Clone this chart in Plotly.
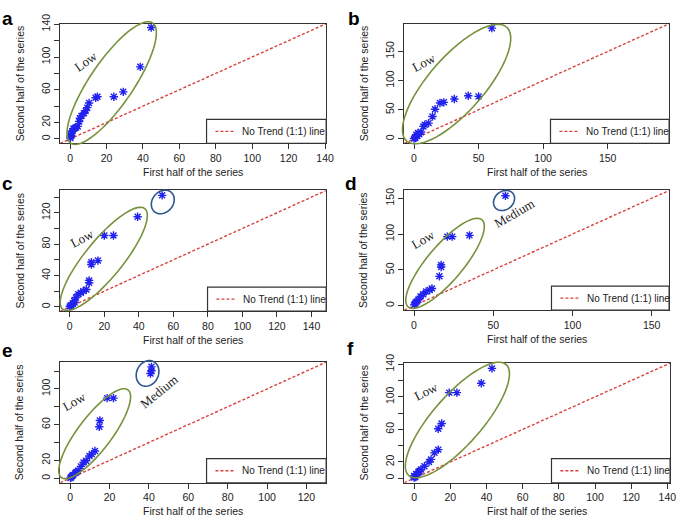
import math
import plotly.graph_objects as go

W, H = 685, 521

# ---------------- data (first half vs second half of each series) ----------------
a_first = [44.5, 38.5, 29.2, 24.0, 15.0, 14.0, 10.4, 9.4, 8.6, 7.6, 5.4, 5.0, 4.2, 3.2, 1.8, 0.9, 0.5, 0.1, 0.3, 1.2, 2.5, 6.2]
a_second = [136, 88, 57.5, 51.5, 51.5, 50.3, 43.8, 38.2, 34.6, 31.4, 25.3, 21.3, 15.3, 14.1, 12.5, 7.2, 4.4, 1.2, 3.0, 9.5, 13.0, 28.0]

b_first = [60.3, 42.0, 50.0, 31.2, 23.1, 20.1, 16.3, 14.3, 11.3, 8.3, 7.3, 5.5, 3.0, 1.8, 0.8, 0.0, 2.5, 4.0, 1.0]
b_second = [190, 74, 73, 68.5, 62.8, 61.7, 51, 38.5, 27.2, 24.3, 21.5, 11.9, 10.2, 7.4, 2.8, 0.6, 5.0, 8.0, 1.5]

c_first = [53.5, 39.3, 25.3, 20.0, 16.3, 12.5, 12.5, 11.2, 11.2, 9.6, 7.8, 6.4, 4.9, 3.6, 2.5, 1.7, 0.6, 0.0, 1.2, 2.8]
c_second = [142.3, 115, 91, 91, 59, 57, 54, 33.7, 30.7, 22, 20, 18, 16, 11.8, 7.6, 4.2, 2.0, 0.3, 1.0, 5.5]

d_first = [57.7, 35.0, 24.1, 21.0, 17.1, 17.1, 16.0, 11.3, 9.9, 7.6, 5.8, 4.1, 2.7, 1.0, 0.2, 0.6, 1.8]
d_second = [153.6, 98.3, 96.5, 96.5, 57, 54, 41, 24, 22, 19.7, 16, 12.8, 8.2, 4.6, 1.4, 2.5, 6.0]

e_first = [41.3, 41.3, 40.8, 22.0, 18.8, 15.1, 14.8, 12.6, 11.0, 9.8, 8.1, 6.8, 5.5, 4.0, 2.7, 1.5, 0.5, 0.2, 1.0, 3.2]
e_second = [124.7, 120.3, 117.3, 89.7, 89.7, 64.6, 57.6, 30.6, 27, 25, 19.6, 17.7, 13.3, 8.5, 5.9, 3.7, 1.1, 0.3, 2.5, 7.0]

f_first = [43.0, 37.1, 23.6, 19.4, 15.2, 13.3, 13.3, 11.2, 9.3, 8.2, 5.7, 3.8, 2.4, 1.1, 0.0, 0.0, 0.6, 3.0, 1.8]
f_second = [135, 116.8, 105.2, 105.2, 67.2, 60.8, 35.2, 31.2, 23.2, 20, 14.8, 10.8, 8, 5.2, 2.8, 0.8, 1.5, 9.0, 4.0]

panel_letters = ["a", "b", "c", "d", "e", "f"]

x_ticks_20 = [0, 20, 40, 60, 80, 100, 120, 140]
x_ticks_e = [0, 20, 40, 60, 80, 100, 120]
ticks_50 = [0, 50, 100, 150]
y_labels_a = ["0", "20", "", "60", "", "100", "", "140"]
y_labels_c = ["0", "", "40", "", "80", "", "120", ""]
y_labels_e = ["0", "20", "", "60", "", "100", ""]

x_title = "First half of the series"
y_title = "Second half of the series"
legend_text = "No Trend (1:1) line"

# ---------------- layout / style (pixel geometry) ----------------
panels = [
    dict(x=a_first, y=a_second, box=(61, 14, 330, 136), rng=(-5.4, 140.6),
         xt=x_ticks_20, xl=[str(v) for v in x_ticks_20], yt=x_ticks_20, yl=y_labels_a, leg=209),
    dict(x=b_first, y=b_second, box=(409, 14, 677, 136), rng=(-7.6, 197.6),
         xt=ticks_50, xl=[str(v) for v in ticks_50], yt=ticks_50, yl=[str(v) for v in ticks_50], leg=557),
    dict(x=c_first, y=c_second, box=(61, 184, 330, 307), rng=(-5.5, 148.5),
         xt=x_ticks_20, xl=[str(v) for v in x_ticks_20], yt=x_ticks_20, yl=y_labels_c, leg=210),
    dict(x=d_first, y=d_second, box=(409, 184, 677, 306), rng=(-6.2, 161.0),
         xt=ticks_50, xl=[str(v) for v in ticks_50], yt=ticks_50, yl=[str(v) for v in ticks_50], leg=558),
    dict(x=e_first, y=e_second, box=(61, 359, 330, 482), rng=(-5.0, 130.0),
         xt=x_ticks_e, xl=[str(v) for v in x_ticks_e], yt=x_ticks_e, yl=y_labels_e, leg=209),
    dict(x=f_first, y=f_second, box=(409, 360, 678, 482), rng=(-5.5, 141.5),
         xt=x_ticks_20, xl=[str(v) for v in x_ticks_20], yt=x_ticks_20, yl=y_labels_a, leg=558),
]

letter_pos = [(8, 9), (358, 9), (8, 177), (355, 177), (8, 347), (355, 345)]

GREEN = "#76923C"
NAVY = "#2E5590"
# ellipses: (cx, cy, semi-major, semi-minor, angle deg, colour) in pixels
ellipses = [
    (113, 74.5, 74, 22, 56, GREEN),
    (462, 75.5, 77, 28, 49, GREEN),
    (105, 253.8, 66, 19, 51, GREEN),
    (164.7, 195.7, 13, 10.5, 50, NAVY),
    (450.3, 258.3, 58, 18, 50, GREEN),
    (510, 194.2, 11.5, 9.3, 40, NAVY),
    (95.8, 432, 56, 17, 53, GREEN),
    (149.3, 370.5, 13.5, 11, 65, NAVY),
    (462.8, 418, 75, 25, 49, GREEN),
]
# text labels: (text, cx, cy, angle)
group_labels = [
    ("Low", 87, 53, -35),
    ("Low", 429, 54, -28),
    ("Low", 83, 233, -28),
    ("Low", 428, 234, -30),
    ("Medium", 520, 207, -30),
    ("Low", 75, 399, -30),
    ("Medium", 161, 389, -39),
    ("Low", 431, 389, -27),
]

SANS = "Liberation Sans, Arial, sans-serif"
SERIF = "Liberation Serif, Times New Roman, serif"
AXC = "#333333"


def px(x):
    return x / W


def py(y):
    return 1 - y / H


fig = go.Figure()
shapes = []
annotations = []

for i, p in enumerate(panels):
    n = "" if i == 0 else str(i + 1)
    xa, ya = "x" + n, "y" + n
    x0, y0, x1, y1 = p["box"]
    lo, hi = p["rng"]
    # 1:1 line
    fig.add_trace(go.Scatter(x=[lo, hi], y=[lo, hi], mode="lines", xaxis=xa, yaxis=ya,
                             line=dict(color="#D9423F", width=1.4, dash="3px,2px"),
                             showlegend=False, hoverinfo="skip"))
    fig.add_trace(go.Scatter(x=p["x"], y=p["y"], mode="markers", xaxis=xa, yaxis=ya,
                             marker=dict(symbol="asterisk-open", size=7, color="#2222EE",
                                         line=dict(color="#2222EE", width=1.4)),
                             showlegend=False))
    axis_common = dict(range=[lo, hi], showgrid=False, zeroline=False, showline=True,
                       mirror=True, linecolor=AXC, linewidth=1.2, ticks="outside",
                       ticklen=5, tickwidth=1, tickcolor=AXC,
                       tickfont=dict(family=SANS, size=10.5, color="#222"))
    fig.update_layout({
        "xaxis" + n: dict(axis_common, domain=[px(x0), px(x1)], anchor=ya,
                          tickmode="array", tickvals=p["xt"], ticktext=p["xl"]),
        "yaxis" + n: dict(axis_common, domain=[py(y1), py(y0)], anchor=xa,
                          tickmode="array", tickvals=p["yt"], ticktext=p["yl"], tickangle=-90),
    })
    # axis titles
    annotations.append(dict(text=x_title, x=px((x0 + x1) / 2), y=py(y1 + 29), xref="paper", yref="paper",
                            showarrow=False, font=dict(family=SANS, size=10.5, color="#222"),
                            xanchor="center", yanchor="middle"))
    annotations.append(dict(text=y_title, x=px(x0 - 41), y=py((y0 + y1) / 2), xref="paper", yref="paper",
                            showarrow=False, textangle=-90, font=dict(family=SANS, size=10.5, color="#222"),
                            xanchor="center", yanchor="middle"))
    # legend box
    L = p["leg"]
    top = y1 - 24.5
    shapes.append(dict(type="rect", xref="paper", yref="paper", x0=px(L), x1=px(x1), y0=py(y1), y1=py(top),
                       line=dict(color=AXC, width=1.2), fillcolor="white", layer="above"))
    mid = (top + y1) / 2
    shapes.append(dict(type="line", xref="paper", yref="paper", x0=px(L + 9), x1=px(L + 28), y0=py(mid), y1=py(mid),
                       line=dict(color="#D9423F", width=1.4, dash="3px,2px"), layer="above"))
    annotations.append(dict(text=legend_text, x=px(L + 34), y=py(mid), xref="paper", yref="paper",
                            showarrow=False, xanchor="left", yanchor="middle",
                            font=dict(family=SANS, size=10, color="#222")))
    # panel letter
    lx, ly = letter_pos[i]
    annotations.append(dict(text="<b>" + panel_letters[i] + "</b>", x=px(lx), y=py(ly), xref="paper", yref="paper",
                            showarrow=False, xanchor="center", yanchor="middle",
                            font=dict(family=SANS, size=19, color="black")))

for cx, cy, a, b, ang, col in ellipses:
    t = math.radians(ang)
    pts = []
    for k in range(73):
        s = 2 * math.pi * k / 72
        ex = a * math.cos(s)
        ey = b * math.sin(s)
        X = cx + ex * math.cos(t) - ey * math.sin(t)
        Y = cy - (ex * math.sin(t) + ey * math.cos(t))
        pts.append((px(X), py(Y)))
    path = "M " + " L ".join(f"{u:.5f},{v:.5f}" for u, v in pts) + " Z"
    shapes.append(dict(type="path", path=path, xref="paper", yref="paper",
                       line=dict(color=col, width=1.6), layer="above"))

for txt, cx, cy, ang in group_labels:
    annotations.append(dict(text=txt, x=px(cx), y=py(cy), xref="paper", yref="paper", showarrow=False,
                            textangle=ang, xanchor="center", yanchor="middle",
                            font=dict(family=SERIF, size=13, color="#222")))

fig.update_layout(width=W, height=H, margin=dict(l=0, r=0, t=0, b=0),
                  paper_bgcolor="white", plot_bgcolor="white",
                  shapes=shapes, annotations=annotations, showlegend=False)

fig.write_html("out.html", config={"displayModeBar": False},
               post_script="document.body.style.margin='0';document.body.style.padding='0';document.body.style.overflow='hidden';")
